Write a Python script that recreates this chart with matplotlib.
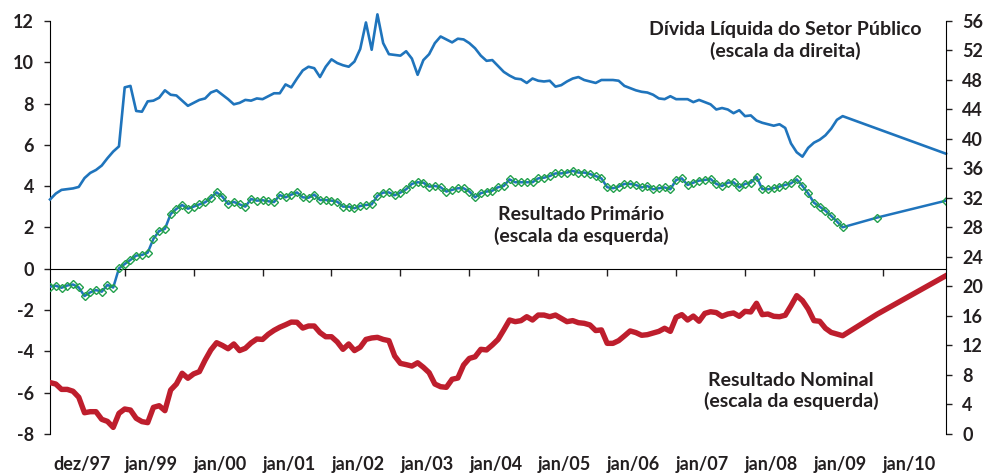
import numpy as np
import pandas as pd
import matplotlib
matplotlib.use("Agg")
import matplotlib.pyplot as plt

# meses: dez/97 a jun/09 (mensal) + dez/09 e dez/10
datas = list(pd.period_range("1997-12", "2009-06", freq="M")) + [pd.Period("2009-12", "M"), pd.Period("2010-12", "M")]
meses = np.array([(d - pd.Period("1997-12", "M")).n for d in datas])

# Dívida Líquida do Setor Público (% PIB, escala da direita)
divida = [31.8, 32.6, 33.1, 33.2, 33.3, 33.5, 34.7, 35.4, 35.8, 36.4,
          37.4, 38.3, 39.0, 47.0, 47.2, 43.8, 43.7, 45.1, 45.2, 45.6,
          46.6, 46.0, 45.9, 45.2, 44.5, 44.9, 45.3, 45.5, 46.3, 46.6,
          46.0, 45.4, 44.7, 44.9, 45.3, 45.2, 45.5, 45.4, 45.8, 46.2,
          46.2, 47.4, 47.0, 48.2, 49.3, 49.8, 49.6, 48.4, 49.8, 50.8,
          50.3, 50.0, 49.8, 50.5, 52.2, 55.8, 52.1, 56.9, 53.0, 51.5,
          51.4, 51.3, 51.9, 50.9, 48.7, 50.7, 51.5, 53.0, 53.9, 53.5,
          53.1, 53.6, 53.5, 53.0, 52.3, 51.3, 50.6, 50.7, 49.9, 49.1,
          48.6, 48.2, 48.1, 47.6, 48.2, 47.9, 47.8, 47.9, 47.1, 47.3,
          47.8, 48.2, 48.4, 48.0, 47.8, 47.6, 48.0, 48.0, 48.0, 47.9,
          47.2, 46.9, 46.6, 46.4, 46.3, 46.0, 45.5, 45.4, 45.8, 45.4,
          45.4, 45.4, 45.0, 45.3, 45.0, 44.7, 44.0, 44.2, 44.0, 43.5,
          43.9, 43.1, 43.2, 42.5, 42.2, 42.0, 41.8, 42.0, 41.5, 39.4,
          38.2, 37.6, 38.8, 39.5, 39.9, 40.5, 41.4, 42.6, 43.1,
          41.4, 38.0]

# Resultado Primário (% PIB, escala da esquerda)
primario = [-0.87, -0.82, -0.92, -0.81, -0.76, -0.90, -1.32, -1.14, -1.03, -1.11,
            -0.78, -0.91, 0.02, 0.23, 0.43, 0.64, 0.67, 0.78, 1.45, 1.83,
            1.93, 2.65, 2.90, 3.09, 2.91, 3.01, 3.12, 3.22, 3.43, 3.70,
            3.49, 3.14, 3.24, 3.12, 3.01, 3.38, 3.30, 3.32, 3.27, 3.23,
            3.57, 3.46, 3.59, 3.70, 3.46, 3.44, 3.59, 3.33, 3.33, 3.30,
            3.25, 3.01, 3.01, 2.93, 3.04, 3.09, 3.12, 3.53, 3.69, 3.70,
            3.56, 3.69, 3.85, 4.11, 4.19, 4.17, 3.98, 4.01, 3.95, 3.74,
            3.82, 3.90, 3.90, 3.74, 3.46, 3.66, 3.74, 3.78, 3.95, 4.01,
            4.33, 4.19, 4.19, 4.19, 4.19, 4.38, 4.41, 4.49, 4.62, 4.62,
            4.66, 4.74, 4.66, 4.66, 4.59, 4.49, 4.38, 3.95, 3.90, 3.98,
            4.11, 4.11, 4.06, 3.94, 4.01, 3.85, 3.90, 3.94, 3.85, 4.30,
            4.38, 4.06, 4.17, 4.27, 4.30, 4.35, 4.11, 4.01, 4.17, 4.19,
            3.94, 4.11, 4.17, 4.46, 3.86, 3.85, 3.90, 3.98, 4.06, 4.14,
            4.33, 4.01, 3.65, 3.20, 3.01, 2.81, 2.56, 2.29, 2.01,
            2.48, 3.30]

# Resultado Nominal (% PIB, escala da esquerda)
nominal = [-5.51, -5.58, -5.84, -5.84, -5.93, -6.22, -6.97, -6.92, -6.92, -7.29,
           -7.39, -7.68, -7.00, -6.79, -6.84, -7.24, -7.40, -7.45, -6.71, -6.63,
           -6.87, -5.87, -5.58, -5.06, -5.30, -5.09, -4.98, -4.42, -3.93, -3.58,
           -3.71, -3.87, -3.64, -3.96, -3.85, -3.59, -3.40, -3.42, -3.17, -2.98,
           -2.83, -2.71, -2.58, -2.59, -2.87, -2.77, -2.77, -3.09, -3.29, -3.29,
           -3.54, -3.90, -3.64, -3.96, -3.80, -3.42, -3.35, -3.32, -3.42, -3.48,
           -4.22, -4.58, -4.64, -4.71, -4.55, -4.77, -5.03, -5.58, -5.71, -5.74,
           -5.35, -5.29, -4.66, -4.34, -4.26, -3.90, -3.93, -3.69, -3.42, -2.96,
           -2.48, -2.56, -2.51, -2.32, -2.48, -2.24, -2.24, -2.32, -2.24, -2.40,
           -2.56, -2.51, -2.61, -2.64, -2.72, -2.99, -2.96, -3.61, -3.61, -3.48,
           -3.25, -3.01, -3.09, -3.22, -3.19, -3.11, -3.03, -2.88, -3.03, -2.35,
           -2.22, -2.48, -2.29, -2.54, -2.16, -2.08, -2.12, -2.30, -2.19, -2.14,
           -2.30, -2.06, -2.09, -1.67, -2.22, -2.19, -2.30, -2.32, -2.25, -1.79,
           -1.30, -1.54, -1.95, -2.51, -2.54, -2.88, -3.08, -3.16, -3.24,
           -2.20, -0.33]

rotulos_x = ["dez/97", "jan/99", "jan/00", "jan/01", "jan/02", "jan/03", "jan/04",
             "jan/05", "jan/06", "jan/07", "jan/08", "jan/09", "jan/10"]

azul = "#1f74bc"
vermelho = "#be1e2d"
verde = "#22a04b"
texto = "#231f20"

plt.rcParams["font.family"] = ["Lato", "DejaVu Sans"]
plt.rcParams["font.weight"] = "bold"
plt.rcParams["font.size"] = 13
plt.rcParams["axes.unicode_minus"] = False
plt.rcParams["text.color"] = texto
plt.rcParams["xtick.color"] = texto
plt.rcParams["ytick.color"] = texto

fig = plt.figure(figsize=(9.87, 4.74), dpi=100)
ax = fig.add_axes([0.0507, 0.0844, 0.9078, 0.8713])
ax2 = ax.twinx()

ax.plot(meses, nominal, color=vermelho, lw=3.9, solid_joinstyle="round", zorder=3)
ax.plot(meses, primario, color=azul, lw=1.8, marker="D", ms=4.5, mfc="none",
        mec=verde, mew=1.0, zorder=4)
ax2.plot(meses, divida, color=azul, lw=1.9, clip_on=False)

ax.set_xlim(0, 156)
ax.set_ylim(-8, 12)
ax2.set_ylim(0, 56)
ax.set_yticks(np.arange(-8, 13, 2))
ax2.set_yticks(np.arange(0, 57, 4))

# eixo x cruzando no zero, marcas em janeiro de cada ano
ax.spines["bottom"].set_position(("data", 0))
ax.spines["top"].set_visible(False)
ax.spines["right"].set_visible(False)
for s in ["top", "bottom", "left"]:
    ax2.spines[s].set_visible(False)
ax.set_xticks(np.arange(13, 146, 12))
ax.set_xticklabels([])
ax.tick_params(axis="x", direction="out", length=5, width=1)
ax.tick_params(axis="y", direction="out", length=4.5, width=1, pad=7)
ax2.tick_params(axis="y", direction="out", length=4.5, width=1, pad=7)

sec = ax.secondary_xaxis("bottom")
sec.set_xticks(np.arange(5.6, 156, 12), rotulos_x)
sec.tick_params(length=0, pad=16)
sec.spines["bottom"].set_visible(False)

rotulo = dict(ha="center", va="center", linespacing=1.25, fontsize=14)
ax.text(128, 11.05, "Dívida Líquida do Setor Público\n(escala da direita)", **rotulo)
ax.text(92.5, 2.1, "Resultado Primário\n(escala da esquerda)", **rotulo)
ax.text(129, -5.92, "Resultado Nominal\n(escala da esquerda)", **rotulo)

fig.savefig("out.png", dpi=100)
